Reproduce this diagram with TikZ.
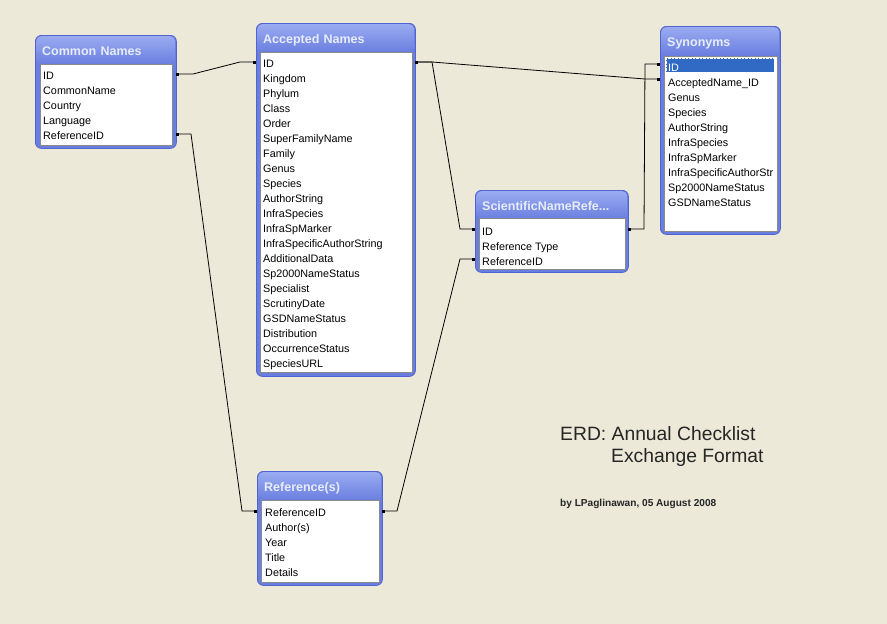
\documentclass[tikz,border=0pt]{standalone}
\usepackage{fontspec}
\setmainfont{Liberation Sans}
\usetikzlibrary{arrows.meta}
\definecolor{erdbg}{HTML}{ECE9D8}
\definecolor{erdframe}{HTML}{6A7EE0}
\definecolor{erdedge}{HTML}{5064D2}
\definecolor{erdhead}{HTML}{9AABF0}
\definecolor{erdtitle}{HTML}{E6ECF8}
\definecolor{erdinset}{HTML}{8A8A8A}
\definecolor{erdselect}{HTML}{316AC5}

\begin{document}
\begin{tikzpicture}[x=1pt,y=-1pt,
  tablebox/.style={draw=erdedge,fill=erdframe,rounded corners=6pt,line width=0.8pt,anchor=north west,inner sep=0pt},
  tablehead/.style={top color=erdhead,bottom color=erdframe,rounded corners=5pt,anchor=north west,inner xsep=6pt,inner ysep=0pt,minimum height=28pt,text height=11pt,text depth=0pt,font=\bfseries\fontsize{12.5}{14}\selectfont,text=erdtitle,align=left},
  fieldbox/.style={draw=erdinset,fill=white,line width=0.8pt,anchor=north west,inner sep=0pt},
  fields/.style={anchor=north west,inner sep=0pt,align=left,font=\fontsize{10.8}{15}\selectfont},
  selrow/.style={fill=erdselect,draw=white,densely dotted,line width=0.4pt,anchor=north west,inner sep=0pt},
  link/.style={{Square[length=3pt,width=3pt]}-{Square[length=3pt,width=3pt]},black,line width=0.8pt}
]
\fill[erdbg] (0,0) rectangle (887,624);
\useasboundingbox (0,0) rectangle (887,624);

% Common Names
\node[tablebox,minimum width=141pt,minimum height=113pt] (cn) at (35,35) {};
\node[tablehead,text width=127pt] (cnhead) at (36,36) {Common Names};
\node[fieldbox,minimum width=132pt,minimum height=81pt] (cnbox) at (40,64) {};
\node[fields] (cnrows) at (43,71.5) {ID\\CommonName\\Country\\Language\\ReferenceID};

% Accepted Names
\node[tablebox,minimum width=159pt,minimum height=353pt] (an) at (256,23) {};
\node[tablehead,text width=145pt] (anhead) at (257,24) {Accepted Names};
\node[fieldbox,minimum width=152pt,minimum height=320pt] (anbox) at (260,52) {};
\node[fields] (anrows) at (263,59.5) {ID\\Kingdom\\Phylum\\Class\\Order\\SuperFamilyName\\Family\\Genus\\Species\\AuthorString\\InfraSpecies\\InfraSpMarker\\InfraSpecificAuthorString\\AdditionalData\\Sp2000NameStatus\\Specialist\\ScrutinyDate\\GSDNameStatus\\Distribution\\OccurrenceStatus\\SpeciesURL};

% Synonyms
\node[tablebox,minimum width=120pt,minimum height=208pt] (sy) at (660,26) {};
\node[tablehead,text width=106pt] (syhead) at (661,27) {Synonyms};
\node[fieldbox,minimum width=113pt,minimum height=175pt] (sybox) at (664,56) {};
\node[selrow,minimum width=108pt,minimum height=14pt] (sysel) at (666,58) {};
\node[fields] (syrows) at (668,63.5) {\textcolor{white}{ID}\\AcceptedName\_ID\\Genus\\Species\\AuthorString\\InfraSpecies\\InfraSpMarker\\InfraSpecificAuthorStr\\Sp2000NameStatus\\GSDNameStatus};

% ScientificNameReferences
\node[tablebox,minimum width=153pt,minimum height=82pt] (sr) at (475,190) {};
\node[tablehead,text width=139pt] (srhead) at (476,191) {ScientificNameRefe...};
\node[fieldbox,minimum width=146pt,minimum height=51pt] (srbox) at (479,218) {};
\node[fields] (srrows) at (482,227.5) {ID\\Reference Type\\ReferenceID};

% Reference(s)
\node[tablebox,minimum width=125pt,minimum height=114pt] (rf) at (257,471) {};
\node[tablehead,text width=111pt] (rfhead) at (258,472) {Reference(s)};
\node[fieldbox,minimum width=118pt,minimum height=82pt] (rfbox) at (261,500) {};
\node[fields] (rfrows) at (265,508.5) {ReferenceID\\Author(s)\\Year\\Title\\Details};

% row ends
\coordinate (cnid) at (176,74);
\coordinate (cnref) at (176,134);
\coordinate (anidw) at (256,62);
\coordinate (anide) at (415,62);
\coordinate (syid) at (660,64);
\coordinate (syacc) at (660,79);
\coordinate (sridw) at (475,229);
\coordinate (sride) at (628,229);
\coordinate (srref) at (475,259);
\coordinate (rfrefw) at (257,511);
\coordinate (rfrefe) at (382,511);

\draw[link] (cnid) -- ++(17,0) -- ([xshift=-16pt]anidw) -- (anidw);
\draw[link] (cnref) -- ++(15,0) -- ([xshift=-15pt]rfrefw) -- (rfrefw);
\draw[link] (anide) -- ++(17,0) -- ([xshift=-15pt]sridw) -- (sridw);
\draw[link] (anide) -- ++(17,0) -- ([xshift=-15pt]syacc) -- (syacc);
\draw[link] (sride) -- ++(16,0) -- ([xshift=-15pt]syid) -- (syid);
\draw[link] (rfrefe) -- ++(15,0) -- ([xshift=-15pt]srref) -- (srref);

% caption
\node[anchor=base west,inner sep=0pt,font=\fontsize{19.3}{22}\selectfont,text=black!85] (erdtitle1) at (560,440) {ERD: Annual Checklist};
\node[anchor=base west,inner sep=0pt,font=\fontsize{19.3}{22}\selectfont,text=black!85] (erdtitle2) at (611,462) {Exchange Format};
\node[anchor=base west,inner sep=0pt,font=\bfseries\fontsize{10.1}{12}\selectfont,text=black!85] (erdby) at (560,506) {by LPaglinawan, 05 August 2008};
\end{tikzpicture}
\end{document}
